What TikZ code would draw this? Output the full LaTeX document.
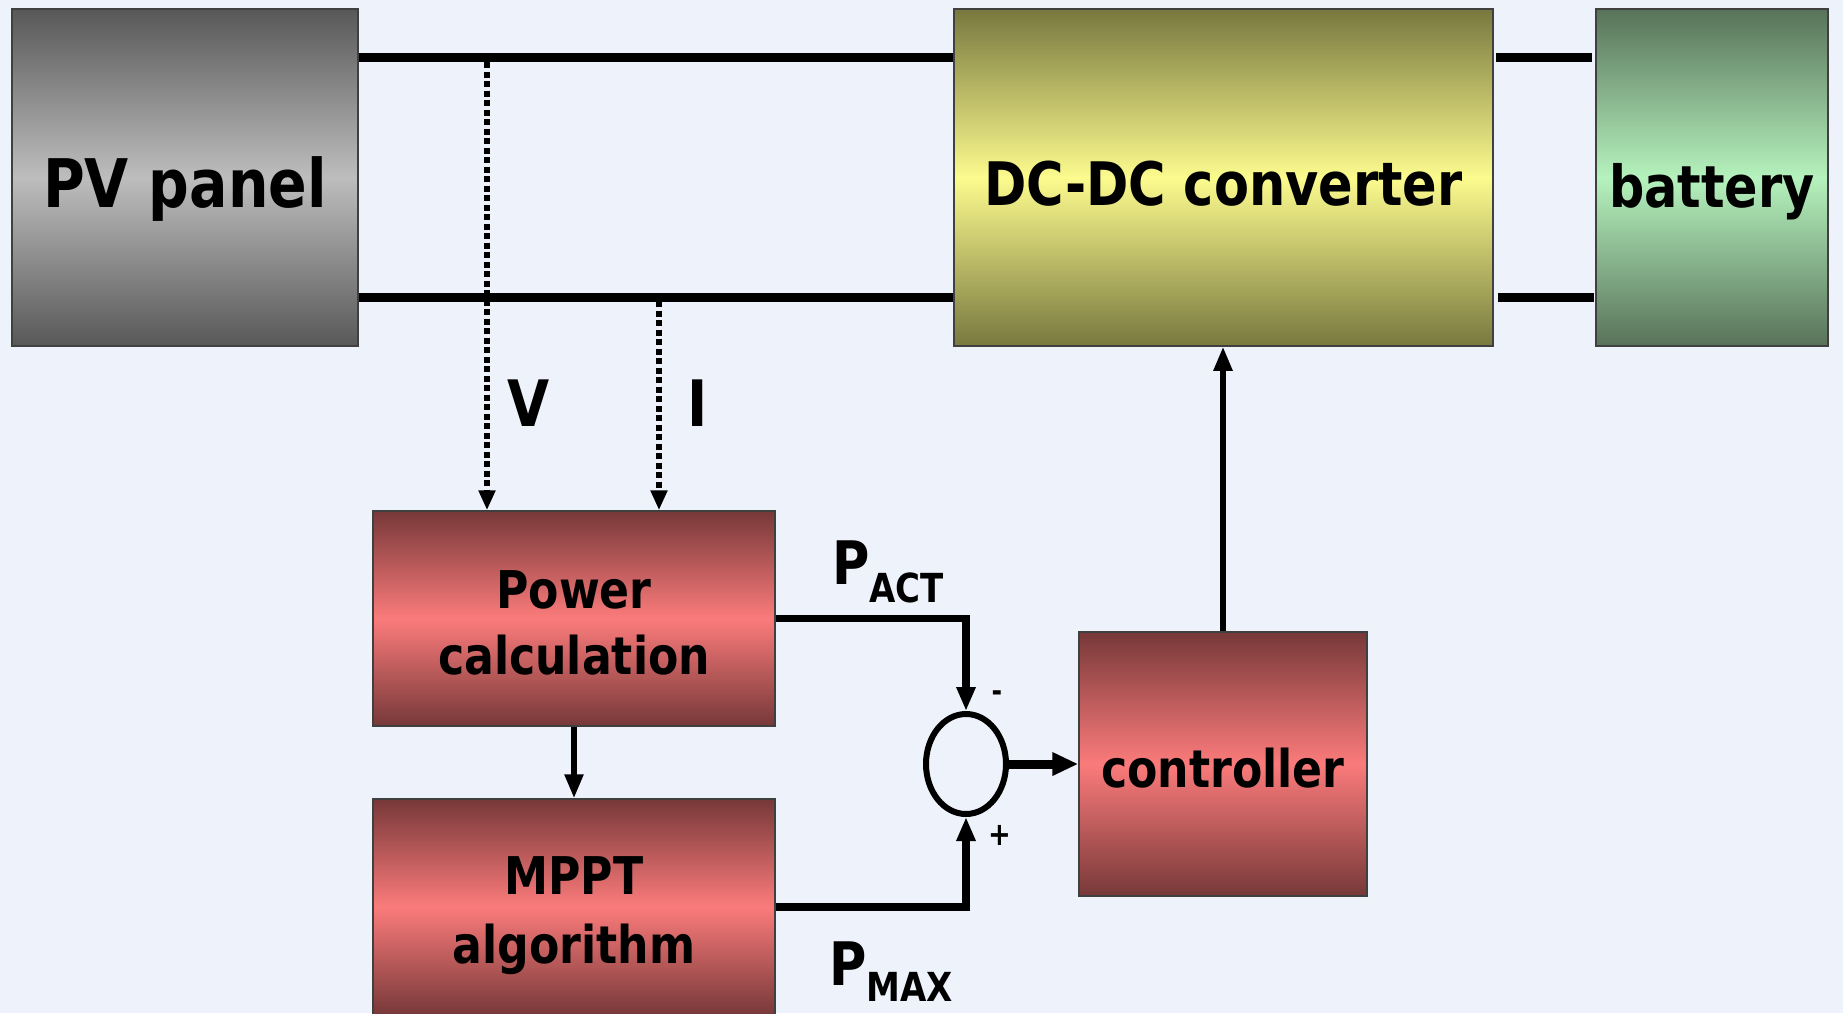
\documentclass[tikz,border=0pt]{standalone}
\usepackage{fontspec}
\setmainfont{DejaVu Sans}[FakeStretch=0.85]
\usetikzlibrary{shapes.geometric,arrows.meta,calc}
\definecolor{bg}{HTML}{EEF2FA}
\definecolor{pvA}{HTML}{585858}
\definecolor{pvB}{HTML}{BDBDBD}
\definecolor{dcA}{HTML}{78783F}
\definecolor{dcB}{HTML}{FCFB8E}
\definecolor{btA}{HTML}{587259}
\definecolor{btB}{HTML}{B5F2BD}
\definecolor{rdA}{HTML}{773838}
\definecolor{rdB}{HTML}{FB7B7B}
\begin{document}
\begin{tikzpicture}[x=1pt,y=-1pt,
  blk/.style={draw=black!75, line width=1.5pt, inner sep=0pt},
  gray box/.style={blk, top color=pvA, bottom color=pvA, middle color=pvB},
  yellow box/.style={blk, top color=dcA, bottom color=dcA, middle color=dcB},
  green box/.style={blk, top color=btA, bottom color=btA, middle color=btB},
  red box/.style={blk, top color=rdA, bottom color=rdA, middle color=rdB},
  txt/.style={inner sep=0pt, align=center},
  wire/.style={line width=9pt},
  sig/.style={line width=6pt, dash pattern=on 6pt off 3.5pt, -{Triangle[length=20pt,width=16pt]}},
  arr/.style={line width=5.5pt, -{Triangle[length=24pt,width=18pt]}},
  lbl/.style={inner sep=0pt, font=\bfseries}]
\path[fill=bg] (0,0) rectangle (1843,1013);
\clip (0,0) rectangle (1843,1013);

\node[gray box, minimum width=346pt, minimum height=337pt] (PV) at (185,177.5) {};
\node[yellow box, minimum width=539pt, minimum height=337pt] (DC) at (1223.5,177.5) {};
\node[green box, minimum width=232pt, minimum height=337pt] (BT) at (1712,177.5) {};
\node[red box, minimum width=402pt, minimum height=215pt] (PC) at (574,618.5) {};
\node[red box, minimum width=402pt, minimum height=216pt] (MP) at (574,907) {};
\node[red box, minimum width=288pt, minimum height=264pt] (CT) at (1223,764) {};
\node[ellipse, draw, line width=6pt, minimum width=80pt, minimum height=100pt, inner sep=0pt] (S) at (966,764) {};

\node[txt, font=\bfseries\fontsize{67}{67}\selectfont] (PVt) at ([yshift=-12pt]PV.center) {PV panel};
\node[txt, font=\bfseries\fontsize{60}{60}\selectfont] (DCt) at ([yshift=-6pt]DC.center) {DC-DC converter};
\node[txt, font=\bfseries\fontsize{58}{58}\selectfont] (BTt) at ([yshift=-14pt]BT.center) {battery};
\node[txt, font=\bfseries\fontsize{52}{66}\selectfont] (PCt) at ([yshift=-4pt]PC.center) {Power\\calculation};
\node[txt, font=\bfseries\fontsize{52}{69}\selectfont] (MPt) at ([yshift=-9pt]MP.center) {MPPT\\algorithm};
\node[txt, font=\bfseries\fontsize{52}{52}\selectfont] (CTt) at ([yshift=-4pt]CT.center) {controller};

% power wires
\draw[wire] ([yshift=-49pt]PV.north east) -- ([yshift=-49pt]DC.north west);
\draw[wire] ([yshift=49pt]PV.south east) -- ([yshift=49pt]DC.south west);
\draw[wire, shorten >=3pt, shorten <=2pt] ([yshift=-49pt]DC.north east) -- ([yshift=-49pt]BT.north west);
\draw[wire, shorten >=1pt, shorten <=4pt] ([yshift=49pt]DC.south east) -- ([yshift=49pt]BT.south west);

% measurements
\coordinate (V0) at (487,62);
\coordinate (I0) at (659,301);
\draw[sig] (V0) -- (V0 |- PC.north);
\draw[sig] (I0) -- (I0 |- PC.north);
\node[lbl, font=\bfseries\fontsize{64}{64}\selectfont] (Vl) at (529,403) {V};
\node[lbl, font=\bfseries\fontsize{64}{64}\selectfont] (Il) at (698,403) {I};

% control loop
\draw[arr] (PC.south) -- (MP.north);
\draw[line width=7.5pt, -{Triangle[length=24pt,width=18pt]}] (PC.east) -| (S.north);
\draw[line width=7.5pt, -{Triangle[length=24pt,width=18pt]}] (MP.east) -| (S.south);
\draw[line width=9pt, -{Triangle[length=26pt,width=22pt]}] (S.east) -- (CT.west);
\draw[arr] (CT.north) -- (CT.north |- DC.south);

\node[lbl, anchor=base west, font=\bfseries\fontsize{60}{60}\selectfont] (Pact) at (832,584) {P\raisebox{-18pt}{\fontsize{40}{40}\selectfont ACT}};
\node[lbl, anchor=base west, font=\bfseries\fontsize{60}{60}\selectfont] (Pmax) at (829,985) {P\raisebox{-16pt}{\fontsize{40}{40}\selectfont MAX}};
\node[lbl, font=\bfseries\fontsize{30}{30}\selectfont] (minus) at (997,696) {-};
\node[lbl, font=\bfseries\fontsize{32}{32}\selectfont] (plus) at (1000,835) {+};
\end{tikzpicture}
\end{document}
